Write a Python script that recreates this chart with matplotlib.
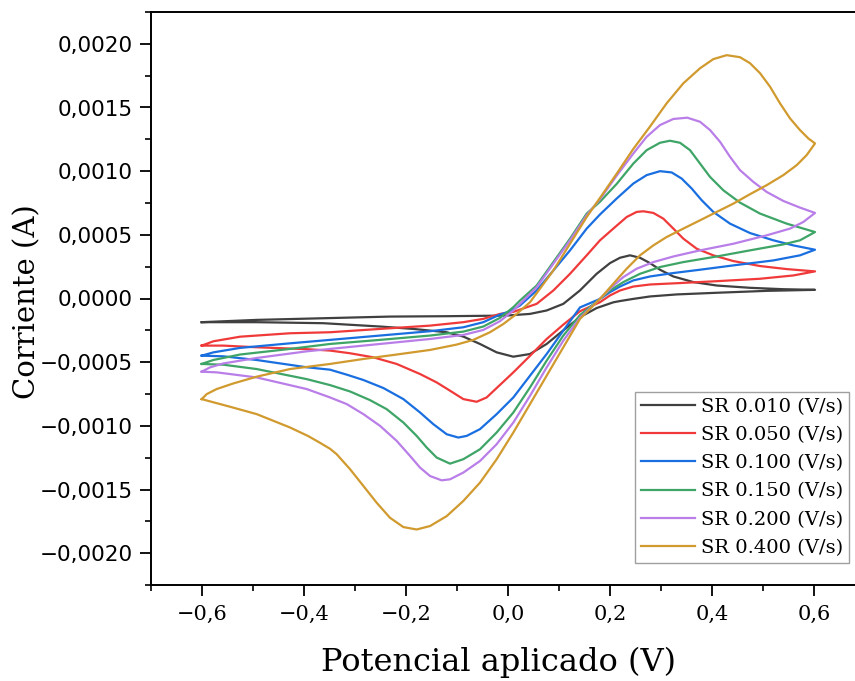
import matplotlib
matplotlib.use("Agg")
import matplotlib.pyplot as plt
from matplotlib.ticker import MultipleLocator, FuncFormatter

# ---- data (potential in V, current in A), traced along each loop ----
labels = ["SR 0.010 (V/s)", "SR 0.050 (V/s)", "SR 0.100 (V/s)",
          "SR 0.150 (V/s)", "SR 0.200 (V/s)", "SR 0.400 (V/s)"]
colors = ["#404040", "#f03a3a", "#1a6fe0", "#3ea567", "#b97ee8", "#d19a2e"]

sr010_x = [-0.6006, -0.4928, -0.362, -0.2314, -0.12, -0.0026, 0.043, 0.0758, 0.1085, 0.141,
           0.1738, 0.2, 0.2196, 0.2392, 0.2588, 0.2784, 0.298, 0.3242, 0.3634, 0.4092,
           0.4745, 0.5399, 0.602,
           0.5072, 0.4092, 0.3307, 0.2784, 0.2458, 0.2196, 0.2065, 0.1738, 0.141, 0.1085,
           0.0758, 0.043, 0.0104, -0.0222, -0.055, -0.0876, -0.1203, -0.1856, -0.251,
           -0.362, -0.4928, -0.6006]
sr010_y = [-0.000186, -0.000168, -0.000155, -0.000142, -0.000139, -0.000134, -0.000121, -0.000094, -0.000042, 0.000063,
           0.000194, 0.000278, 0.000320, 0.000339, 0.000320, 0.000278, 0.000226, 0.000173, 0.000129, 0.000102,
           0.000084, 0.000073, 0.000068,
           0.000060, 0.000045, 0.000032, 0.000016, -0.000003, -0.000020, -0.000030, -0.000075, -0.000147, -0.000250,
           -0.000357, -0.000436, -0.000457, -0.000423, -0.000357, -0.000299, -0.000265, -0.000239, -0.000220,
           -0.000194, -0.000186, -0.000186]

sr050_x = [-0.6006, -0.5777, -0.5254, -0.4274, -0.349, -0.251, -0.1529, -0.0876, -0.0484, -0.0157,
           0.0105, 0.0562, 0.0889, 0.1216, 0.1543, 0.1804, 0.2065, 0.2327, 0.2523, 0.2654,
           0.285, 0.3046, 0.3242, 0.3438, 0.37, 0.4026, 0.4418, 0.4941, 0.5464, 0.602,
           0.5595, 0.4941, 0.4092, 0.3307, 0.2784, 0.2458, 0.2196, 0.2, 0.1804, 0.1412,
           0.1085, 0.0758, 0.0432, 0.0105, -0.0222, -0.0418, -0.0614, -0.0876, -0.1137, -0.1399,
           -0.1725, -0.2183, -0.264, -0.3098, -0.349, -0.3948, -0.4928, -0.5581, -0.6006]
sr050_y = [-0.000370, -0.000336, -0.000300, -0.000273, -0.000265, -0.000239, -0.000213, -0.000186, -0.000160, -0.000121,
           -0.000105, -0.000042, 0.000063, 0.000194, 0.000339, 0.000457, 0.000549, 0.000640, 0.000680, 0.000685,
           0.000672, 0.000627, 0.000549, 0.000470, 0.000391, 0.000339, 0.000294, 0.000255, 0.000231, 0.000213,
           0.000181, 0.000155, 0.000136, 0.000120, 0.000110, 0.000094, 0.000063, 0.000024, -0.000029, -0.000100,
           -0.000205, -0.000318, -0.000450, -0.000580, -0.000703, -0.000777, -0.000811, -0.000790, -0.000724, -0.000659,
           -0.000593, -0.000514, -0.000462, -0.000430, -0.000409, -0.000398, -0.000383, -0.000370, -0.000370]

sr100_x = [-0.6006, -0.5777, -0.5254, -0.4274, -0.349, -0.251, -0.1529, -0.0876, -0.0484, -0.0157,
           0.0039, 0.0235, 0.0562, 0.0889, 0.1216, 0.1543, 0.1804, 0.2131, 0.2458, 0.2719,
           0.298, 0.3209, 0.3405, 0.3601, 0.3797, 0.4026, 0.4353, 0.4745, 0.5203, 0.5595, 0.602,
           0.5725, 0.5203, 0.4418, 0.3765, 0.3242, 0.2784, 0.2458, 0.2196, 0.2, 0.1804,
           0.1412, 0.1085, 0.0758, 0.0432, 0.0105, -0.0222, -0.0549, -0.081, -0.0974, -0.1202,
           -0.1464, -0.1725, -0.2052, -0.2444, -0.2836, -0.3163, -0.349, -0.3948, -0.4928, -0.5581, -0.6006]
sr100_y = [-0.000449, -0.000423, -0.000388, -0.000352, -0.000325, -0.000291, -0.000257, -0.000226, -0.000186, -0.000126,
           -0.000100, -0.000055, 0.000063, 0.000220, 0.000378, 0.000549, 0.000660, 0.000785, 0.000903, 0.000969,
           0.001000, 0.000990, 0.000942, 0.000864, 0.000772, 0.000680, 0.000588, 0.000514, 0.000457, 0.000417, 0.000383,
           0.000339, 0.000299, 0.000260, 0.000226, 0.000200, 0.000173, 0.000142, 0.000094, 0.000050, -0.000003,
           -0.000070, -0.000252, -0.000436, -0.000606, -0.000777, -0.000908, -0.001026, -0.001079, -0.001092, -0.001066,
           -0.000987, -0.000895, -0.000790, -0.000703, -0.000640, -0.000598, -0.000559, -0.000540, -0.000483, -0.000454, -0.000449]

sr150_x = [-0.6006, -0.5777, -0.5254, -0.4274, -0.349, -0.251, -0.1529, -0.0876, -0.0484, -0.0157,
           0.0105, 0.0235, 0.0562, 0.0889, 0.1216, 0.1543, 0.1804, 0.2131, 0.2458, 0.2719,
           0.298, 0.3176, 0.3373, 0.3569, 0.3765, 0.3961, 0.4222, 0.4549, 0.4941, 0.5464, 0.602,
           0.5725, 0.5399, 0.4745, 0.4092, 0.3438, 0.298, 0.2588, 0.2261, 0.2, 0.1804,
           0.1412, 0.1085, 0.0758, 0.0432, 0.0105, -0.0222, -0.0549, -0.0876, -0.1137, -0.1399,
           -0.1595, -0.1791, -0.2052, -0.2379, -0.2706, -0.3098, -0.349, -0.3948, -0.4928, -0.5581, -0.6006]
sr150_y = [-0.000514, -0.000483, -0.000440, -0.000396, -0.000357, -0.000325, -0.000291, -0.000260, -0.000220, -0.000152,
           -0.000068, -0.000016, 0.000102, 0.000286, 0.000470, 0.000667, 0.000760, 0.000900, 0.001060, 0.001165,
           0.001223, 0.001239, 0.001223, 0.001165, 0.001060, 0.000955, 0.000850, 0.000753, 0.000667, 0.000588, 0.000522,
           0.000457, 0.000425, 0.000378, 0.000330, 0.000286, 0.000247, 0.000194, 0.000129, 0.000063, -0.000003,
           -0.000130, -0.000291, -0.000488, -0.000698, -0.000895, -0.001052, -0.001184, -0.001262, -0.001297, -0.001249,
           -0.001170, -0.001079, -0.000974, -0.000869, -0.000798, -0.000730, -0.000680, -0.000633, -0.000554, -0.000520, -0.000514]

sr200_x = [-0.6006, -0.5843, -0.5581, -0.4928, -0.3948, -0.349, -0.251, -0.1529, -0.0876, -0.0484,
           -0.0157, 0.0105, 0.0235, 0.0562, 0.0889, 0.1216, 0.1543, 0.1804, 0.2131, 0.2458,
           0.2719, 0.298, 0.3242, 0.3516, 0.3765, 0.3961, 0.4157, 0.4353, 0.4549, 0.481,
           0.5072, 0.5399, 0.5725, 0.602,
           0.5791, 0.553, 0.5072, 0.4418, 0.3765, 0.3242, 0.285, 0.2523, 0.2261, 0.2033,
           0.1804, 0.1412, 0.1085, 0.0758, 0.0432, 0.0105, -0.0222, -0.0549, -0.0876, -0.1137,
           -0.1301, -0.1529, -0.1725, -0.1922, -0.2183, -0.251, -0.2836, -0.3163, -0.349, -0.3948,
           -0.4928, -0.5712, -0.6006]
sr200_y = [-0.000575, -0.000541, -0.000510, -0.000467, -0.000415, -0.000396, -0.000357, -0.000318, -0.000286, -0.000247,
           -0.000178, -0.000094, -0.000042, 0.000089, 0.000273, 0.000457, 0.000654, 0.000780, 0.000965, 0.001139,
           0.001270, 0.001362, 0.001410, 0.001420, 0.001388, 0.001323, 0.001231, 0.001113, 0.001008, 0.000916,
           0.000837, 0.000766, 0.000714, 0.000672,
           0.000601, 0.000549, 0.000496, 0.000430, 0.000378, 0.000330, 0.000286, 0.000234, 0.000168, 0.000089,
           -0.000003, -0.000150, -0.000331, -0.000541, -0.000764, -0.000974, -0.001144, -0.001276, -0.001367, -0.001420,
           -0.001428, -0.001394, -0.001328, -0.001236, -0.001118, -0.001000, -0.000908, -0.000829, -0.000777, -0.000711,
           -0.000620, -0.000580, -0.000575]

sr400_x = [-0.6006, -0.5908, -0.5712, -0.5385, -0.4928, -0.4274, -0.349, -0.2836, -0.2183, -0.1529,
           -0.1007, -0.068, -0.0353, -0.0091, 0.017, 0.0432, 0.0889, 0.1216, 0.1543, 0.1804,
           0.2131, 0.2458, 0.2784, 0.3111, 0.3438, 0.3765, 0.4026, 0.4288, 0.4549, 0.4745,
           0.4941, 0.5137, 0.5333, 0.5529, 0.5725, 0.5889, 0.602,
           0.5856, 0.566, 0.5399, 0.5072, 0.4745, 0.4418, 0.4092, 0.3765, 0.3438, 0.3111,
           0.285, 0.2588, 0.2327, 0.2065, 0.1804, 0.1412, 0.1085, 0.0758, 0.0432, 0.0105,
           -0.0222, -0.0549, -0.0876, -0.1202, -0.1529, -0.1791, -0.2052, -0.2314, -0.2575, -0.2836,
           -0.3098, -0.3359, -0.349, -0.370, -0.392, -0.4274, -0.4928, -0.5451, -0.5843, -0.6006]
sr400_y = [-0.000790, -0.000751, -0.000711, -0.000667, -0.000614, -0.000554, -0.000514, -0.000475, -0.000440, -0.000404,
           -0.000362, -0.000325, -0.000265, -0.000200, -0.000121, -0.000029, 0.000220, 0.000430, 0.000640, 0.000790,
           0.000980, 0.001175, 0.001350, 0.001533, 0.001690, 0.001808, 0.001880, 0.001911, 0.001895, 0.001848,
           0.001770, 0.001664, 0.001533, 0.001415, 0.001323, 0.001257, 0.001218,
           0.001126, 0.001047, 0.000969, 0.000890, 0.000819, 0.000745, 0.000680, 0.000614, 0.000549, 0.000483,
           0.000417, 0.000339, 0.000234, 0.000116, -0.000003, -0.000160, -0.000383, -0.000606, -0.000829, -0.001052,
           -0.001262, -0.001446, -0.001590, -0.001709, -0.001787, -0.001814, -0.001795, -0.001722, -0.001604, -0.001472,
           -0.001340, -0.001223, -0.001180, -0.001130, -0.001080, -0.001013, -0.000908, -0.000850, -0.000808, -0.000790]

series_x = [sr010_x, sr050_x, sr100_x, sr150_x, sr200_x, sr400_x]
series_y = [sr010_y, sr050_y, sr100_y, sr150_y, sr200_y, sr400_y]

# ---- figure ----
W, H = 855, 681
fig = plt.figure(figsize=(W / 100, H / 100), dpi=100)
L, R, T, B = 151, 865, 12, 585
ax = fig.add_axes([L / W, 1 - B / H, (R - L) / W, (B - T) / H])

for xs, ys, c, lab in zip(series_x, series_y, colors, labels):
    ax.plot(xs, ys, color=c, lw=1.6, label=lab, solid_joinstyle="round")

ax.set_xlim(-0.7, 0.7)
ax.set_ylim(-0.00225, 0.00225)

ax.xaxis.set_major_locator(MultipleLocator(0.2))
ax.xaxis.set_minor_locator(MultipleLocator(0.1))
ax.yaxis.set_major_locator(MultipleLocator(0.0005))
ax.yaxis.set_minor_locator(MultipleLocator(0.00025))


def fmt_x(v, pos):
    s = f"{abs(v):.1f}".replace(".", ",")
    return ("\u2212" + s) if v < -1e-9 else s


def fmt_y(v, pos):
    s = f"{abs(v):.4f}".replace(".", ",")
    return ("\u2212" + s) if v < -1e-12 else s


ax.xaxis.set_major_formatter(FuncFormatter(fmt_x))
ax.yaxis.set_major_formatter(FuncFormatter(fmt_y))

ax.tick_params(which="major", direction="out", length=8, width=1.3, pad=6)
ax.tick_params(which="minor", direction="out", length=4.5, width=1.2)
ax.tick_params(axis="y", pad=5)
for lab in ax.get_xticklabels():
    lab.set_fontfamily("DejaVu Serif")
    lab.set_fontsize(15)
for lab in ax.get_yticklabels():
    lab.set_fontfamily("DejaVu Sans")
    lab.set_fontsize(15.5)

ax.spines["right"].set_visible(False)
for s in ax.spines.values():
    s.set_linewidth(1.4)

ax.set_xlabel("Potencial aplicado (V)", fontfamily="DejaVu Serif", fontsize=23)
ax.set_ylabel("Corriente (A)", fontfamily="DejaVu Serif", fontsize=21)
ax.xaxis.set_label_coords((498.5 - L) / (R - L), (B - 662) / (B - T))
ax.xaxis.label.set_va("center")
ax.yaxis.set_label_coords((27 - L) / (R - L), (B - 302) / (B - T))
ax.yaxis.label.set_va("center")

leg = ax.legend(loc="lower right", bbox_to_anchor=((849 - L) / (R - L), (B - 563) / (B - T)),
                prop={"family": "DejaVu Serif", "size": 14}, frameon=True, fancybox=False,
                handlelength=2.8, handletextpad=0.3, labelspacing=0.53, borderpad=0.3,
                borderaxespad=0.0)
leg.get_frame().set_edgecolor("#888888")
leg.get_frame().set_linewidth(1.0)

fig.savefig("out.png", dpi=100)
